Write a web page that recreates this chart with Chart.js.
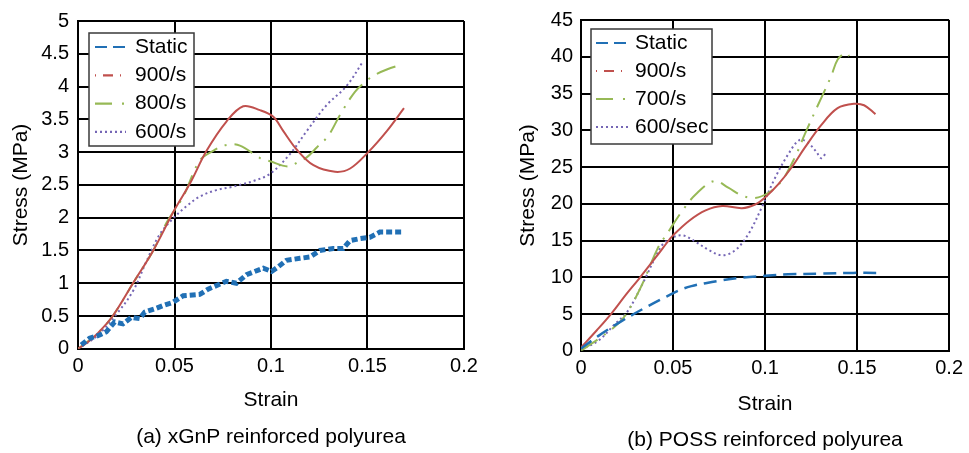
<!DOCTYPE html>
<html>
<head>
<meta charset="utf-8">
<script src="https://cdn.jsdelivr.net/npm/chart.js@4.4.0/dist/chart.umd.min.js"></script>
<style>
  html, body { margin: 0; padding: 0; background: #fff; }
  body { width: 969px; height: 453px; position: relative; overflow: hidden; }
  .panel { position: absolute; top: 0; height: 453px; }
  #panelA { left: 0; width: 484px; }
  #panelB { left: 484px; width: 485px; }
</style>
</head>
<body>
<div class="panel" id="panelA"><canvas id="chartA"></canvas></div>
<div class="panel" id="panelB"><canvas id="chartB"></canvas></div>
<script>
// axes
const strainTickLabels = ['0', '0.05', '0.1', '0.15', '0.2'];
const stressTickLabelsA = ['0', '0.5', '1', '1.5', '2', '2.5', '3', '3.5', '4', '4.5', '5'];
const stressTickLabelsB = ['0', '5', '10', '15', '20', '25', '30', '35', '40', '45'];

// (a) xGnP reinforced polyurea
const strainAStatic = [0.0017, 0.006, 0.0112, 0.0147, 0.019, 0.0233, 0.0277, 0.032, 0.0346, 0.0398, 0.0441, 0.0493, 0.0545, 0.0631, 0.0674, 0.0769, 0.0821, 0.0873, 0.096, 0.1003, 0.1037, 0.108, 0.115, 0.1201, 0.1253, 0.1322, 0.1374, 0.1409, 0.146, 0.1512, 0.1564, 0.1616, 0.1686];
const stressAStatic = [0.06, 0.16, 0.21, 0.26, 0.41, 0.38, 0.48, 0.46, 0.56, 0.61, 0.66, 0.71, 0.81, 0.83, 0.91, 1.03, 1.0, 1.13, 1.23, 1.18, 1.25, 1.35, 1.38, 1.40, 1.50, 1.53, 1.53, 1.65, 1.68, 1.70, 1.78, 1.78, 1.78];
const strainA900 = [0, 0.005, 0.01, 0.018, 0.0285, 0.039, 0.05, 0.058, 0.0666, 0.077, 0.0856, 0.0943, 0.1012, 0.1064, 0.1133, 0.122, 0.1332, 0.141, 0.1504, 0.16, 0.1689];
const stressA900 = [0, 0.1, 0.23, 0.5, 1.0, 1.5, 2.12, 2.52, 3.02, 3.47, 3.70, 3.64, 3.54, 3.32, 3.04, 2.80, 2.70, 2.75, 3.0, 3.32, 3.67];
const strainA800 = [0, 0.01, 0.018, 0.0285, 0.039, 0.046, 0.0545, 0.063, 0.070, 0.077, 0.0839, 0.0943, 0.0995, 0.109, 0.114, 0.1185, 0.1237, 0.1297, 0.1358, 0.1435, 0.1496, 0.154, 0.16, 0.168];
const stressA800 = [0, 0.23, 0.5, 1.0, 1.5, 1.93, 2.32, 2.87, 3.02, 3.11, 3.10, 2.91, 2.86, 2.78, 2.85, 2.92, 3.07, 3.25, 3.57, 3.92, 4.09, 4.18, 4.26, 4.34];
const strainA600 = [0, 0.01, 0.02, 0.0285, 0.0354, 0.042, 0.049, 0.056, 0.063, 0.0717, 0.080, 0.0839, 0.091, 0.0995, 0.1098, 0.1185, 0.1289, 0.1392, 0.1478];
const stressA600 = [0, 0.2, 0.53, 0.88, 1.33, 1.73, 1.98, 2.17, 2.32, 2.42, 2.47, 2.50, 2.56, 2.67, 2.97, 3.32, 3.72, 4.01, 4.39];

// (b) POSS reinforced polyurea
const strainBStatic = [0, 0.0093, 0.0218, 0.0344, 0.045, 0.054, 0.06, 0.0677, 0.0767, 0.0875, 0.1, 0.1125, 0.1305, 0.148, 0.161];
const stressBStatic = [0.3, 2.0, 4.0, 5.8, 7.2, 8.3, 8.8, 9.2, 9.6, 9.96, 10.2, 10.4, 10.5, 10.6, 10.6];
const strainB900 = [0, 0.0086, 0.0165, 0.024, 0.0317, 0.0409, 0.047, 0.05, 0.0588, 0.0677, 0.0767, 0.0875, 0.0946, 0.1, 0.107, 0.1143, 0.1215, 0.1305, 0.1394, 0.1484, 0.1538, 0.16];
const stressB900 = [0.45, 2.8, 5.07, 7.5, 9.86, 12.8, 14.8, 15.7, 17.7, 19.1, 19.7, 19.4, 19.9, 20.85, 22.6, 24.9, 27.6, 30.7, 33.0, 33.6, 33.4, 32.2];
const strainB700 = [0, 0.0165, 0.0237, 0.0326, 0.0416, 0.048, 0.0552, 0.0624, 0.0724, 0.080, 0.0875, 0.0946, 0.1018, 0.109, 0.116, 0.1215, 0.1287, 0.136, 0.1394, 0.1439, 0.1457];
const stressB700 = [0, 2.9, 4.7, 8.7, 13.9, 16.4, 19.1, 21.3, 23.1, 22.2, 21.1, 20.8, 21.5, 23.1, 26.2, 29.4, 33.4, 37.4, 39.6, 40.5, 40.1];
const strainB600 = [0, 0.0093, 0.0183, 0.0254, 0.0344, 0.0433, 0.048, 0.0552, 0.0624, 0.0695, 0.0767, 0.0839, 0.091, 0.0982, 0.1054, 0.1125, 0.1188, 0.1233, 0.1278, 0.1305, 0.1331];
const stressB600 = [0.2, 1.35, 3.6, 5.4, 9.6, 14.1, 15.2, 15.7, 14.8, 13.7, 13.0, 13.7, 15.9, 19.5, 23.5, 26.7, 28.7, 28.3, 27.1, 26.2, 26.9];

const BLUE = '#2170b5';
const RED = '#c0504d';
const GREEN = '#97b956';
const PURPLE = '#7566b5';

Chart.defaults.font.family = '"Liberation Sans", Arial, Helvetica, sans-serif';
Chart.defaults.color = '#000';

function pts(xs, ys) {
  return xs.map((x, i) => ({ x: x, y: ys[i] }));
}

// legend box drawn inside the plot, with a line sample per series
const boxLegend = {
  id: 'boxLegend',
  afterDatasetsDraw(chart, args, opts) {
    const ctx = chart.ctx;
    const left = chart.chartArea.left + opts.dx;
    const top = chart.chartArea.top + opts.dy;
    ctx.save();
    ctx.fillStyle = '#fff';
    ctx.fillRect(left, top, opts.width, opts.height);
    ctx.strokeStyle = '#3a3a3a';
    ctx.lineWidth = 1.5;
    ctx.strokeRect(left, top, opts.width, opts.height);
    ctx.font = '21px "Liberation Sans", Arial, sans-serif';
    ctx.textBaseline = 'middle';
    chart.data.datasets.forEach((ds, i) => {
      const y = top + opts.firstRow + i * opts.rowGap;
      ctx.beginPath();
      ctx.setLineDash(ds.legendDash);
      ctx.strokeStyle = ds.borderColor;
      ctx.lineWidth = 2.2;
      ctx.moveTo(left + opts.lineX, y);
      ctx.lineTo(left + opts.lineX + opts.lineLen, y);
      ctx.stroke();
      ctx.setLineDash([]);
      ctx.fillStyle = '#000';
      ctx.fillText(ds.label, left + opts.textX, y);
    });
    ctx.restore();
  }
};

function makeChart(id, cfg) {
  return new Chart(document.getElementById(id), {
    type: 'line',
    data: { datasets: cfg.datasets },
    plugins: [boxLegend],
    options: {
      responsive: true,
      maintainAspectRatio: false,
      animation: false,
      layout: { padding: cfg.padding },
      elements: { point: { radius: 0 } },
      plugins: {
        legend: { display: false },
        tooltip: { enabled: false },
        title: {
          display: true,
          text: cfg.caption,
          position: 'bottom',
          fullSize: false,
          font: { size: 21, weight: 'normal' },
          color: '#000',
          padding: cfg.captionPad
        },
        boxLegend: cfg.legend
      },
      scales: {
        x: {
          type: 'linear',
          min: 0, max: 0.2,
          afterFit: s => { s.height = cfg.xHeight; },
          ticks: {
            stepSize: 0.05,
            padding: 6,
            maxRotation: 0,
            font: { size: 20 },
            color: '#000',
            callback: v => strainTickLabels[Math.round(v / 0.05)]
          },
          grid: { color: '#000', lineWidth: 2, drawTicks: false },
          border: { color: '#000', width: 2 },
          title: { display: true, text: 'Strain', font: { size: 21, lineHeight: 1 }, color: '#000', padding: { top: 0, bottom: cfg.xTitlePad } }
        },
        y: {
          min: 0, max: cfg.yMax,
          afterFit: s => { s.width = cfg.yWidth; },
          ticks: {
            stepSize: cfg.yStep,
            padding: cfg.yTickPad,
            font: { size: 20 },
            color: '#000',
            callback: v => cfg.yLabels[Math.round(v / cfg.yStep)]
          },
          grid: { color: '#000', lineWidth: 2, drawTicks: false },
          border: { color: '#000', width: 2 },
          title: { display: true, text: 'Stress (MPa)', font: { size: 21 }, color: '#000', padding: { top: cfg.yTitlePad, bottom: 0 } }
        }
      }
    }
  });
}

makeChart('chartA', {
  caption: '(a) xGnP reinforced polyurea',
  padding: { left: 0, top: 14, right: 20, bottom: 0 },
  captionPad: { top: 12, bottom: 3 },
  xHeight: 64, xTitlePad: 2,
  yWidth: 78, yTickPad: 9, yTitlePad: 9,
  yMax: 5, yStep: 0.5, yLabels: stressTickLabelsA,
  legend: { dx: 11, dy: 12, width: 105, height: 113, firstRow: 14, rowGap: 28.3, lineX: 6, lineLen: 31, textX: 46 },
  datasets: [
    { label: 'Static', data: pts(strainAStatic, stressAStatic), borderColor: BLUE, borderWidth: 5, borderDash: [6, 3], tension: 0, legendDash: [12, 6] },
    { label: '900/s', data: pts(strainA900, stressA900), borderColor: RED, borderWidth: 2, tension: 0.35, legendDash: [1, 7, 10, 7] },
    { label: '800/s', data: pts(strainA800, stressA800), borderColor: GREEN, borderWidth: 2, borderDash: [20, 8, 2, 8], tension: 0.35, legendDash: [17, 10, 2, 10] },
    { label: '600/s', data: pts(strainA600, stressA600), borderColor: PURPLE, borderWidth: 2, borderDash: [2, 3], tension: 0.35, legendDash: [2, 3] }
  ]
});

makeChart('chartB', {
  caption: '(b) POSS reinforced polyurea',
  padding: { left: 0, top: 17, right: 16, bottom: 0 },
  captionPad: { top: 13, bottom: 0 },
  xHeight: 64, xTitlePad: 0,
  yWidth: 97, yTickPad: 8, yTitlePad: 32,
  yMax: 45, yStep: 5, yLabels: stressTickLabelsB,
  legend: { dx: 10, dy: 9, width: 121, height: 115, firstRow: 14, rowGap: 28, lineX: 5, lineLen: 32, textX: 44 },
  datasets: [
    { label: 'Static', data: pts(strainBStatic, stressBStatic), borderColor: BLUE, borderWidth: 2.5, borderDash: [13, 7], tension: 0.35, legendDash: [12, 6] },
    { label: '900/s', data: pts(strainB900, stressB900), borderColor: RED, borderWidth: 2, tension: 0.35, legendDash: [1, 7, 10, 7] },
    { label: '700/s', data: pts(strainB700, stressB700), borderColor: GREEN, borderWidth: 2, borderDash: [20, 8, 2, 8], tension: 0.35, legendDash: [17, 10, 2, 10] },
    { label: '600/sec', data: pts(strainB600, stressB600), borderColor: PURPLE, borderWidth: 2, borderDash: [2, 3], tension: 0.35, legendDash: [2, 3] }
  ]
});
</script>
</body>
</html>
